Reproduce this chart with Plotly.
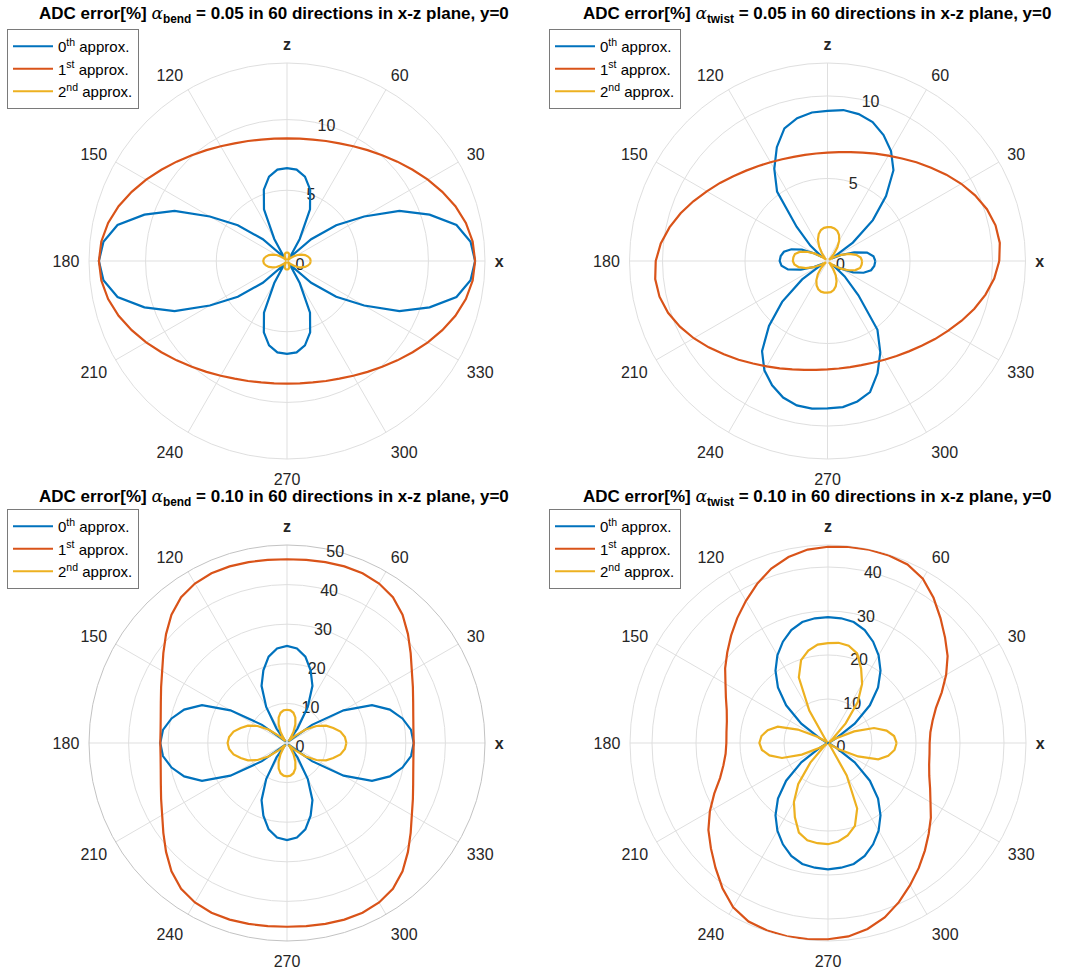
import plotly.graph_objects as go

# ---------------- data ----------------
theta = list(range(0, 361, 6))  # 60 directions, closed

names = ['0<sup>th</sup> approx.', '1<sup>st</sup> approx.', '2<sup>nd</sup> approx.']
colors = ['#0072BD', '#D95319', '#EDB120']

ang_tickvals = [0, 30, 60, 90, 120, 150, 180, 210, 240, 270, 300, 330]
ang_ticktext = ['<b>x</b>', '30', '60', '<b>z</b>', '120', '150', '180', '210', '240', '270', '300', '330']

# Panel 1: bend 0.05
bend05_0th = [13.30, 13.05, 12.25, 10.60, 8.70, 6.30, 4.30, 2.30, 0.50, 0.40, 1.80, 4.00, 5.30, 6.10, 6.50, 6.57,
              6.50, 6.10, 5.30, 4.00, 1.80, 0.40, 0.50, 2.30, 4.30, 6.30, 8.70, 10.60, 12.25, 13.05, 13.30,
              13.05, 12.25, 10.60, 8.70, 6.30, 4.30, 2.30, 0.50, 0.40, 1.80, 4.00, 5.30, 6.10, 6.50, 6.57,
              6.50, 6.10, 5.30, 4.00, 1.80, 0.40, 0.50, 2.30, 4.30, 6.30, 8.70, 10.60, 12.25, 13.05, 13.30]
bend05_1st = [13.30, 13.20, 12.93, 12.52, 12.02, 11.50, 10.98, 10.50, 10.06, 9.69, 9.37, 9.11, 8.92, 8.78, 8.70, 8.67,
              8.70, 8.78, 8.92, 9.11, 9.37, 9.69, 10.06, 10.50, 10.98, 11.50, 12.02, 12.52, 12.93, 13.20, 13.30,
              13.20, 12.93, 12.52, 12.02, 11.50, 10.98, 10.50, 10.06, 9.69, 9.37, 9.11, 8.92, 8.78, 8.70, 8.67,
              8.70, 8.78, 8.92, 9.11, 9.37, 9.69, 10.06, 10.50, 10.98, 11.50, 12.02, 12.52, 12.93, 13.20, 13.30]
bend05_2nd = [1.68, 1.64, 1.52, 1.35, 1.12, 0.85, 0.55, 0.28, 0.08, 0.10, 0.25, 0.40, 0.50, 0.57, 0.60, 0.60,
              0.60, 0.57, 0.50, 0.40, 0.25, 0.10, 0.08, 0.28, 0.55, 0.85, 1.12, 1.35, 1.52, 1.64, 1.68,
              1.64, 1.52, 1.35, 1.12, 0.85, 0.55, 0.28, 0.08, 0.10, 0.25, 0.40, 0.50, 0.57, 0.60, 0.60,
              0.60, 0.57, 0.50, 0.40, 0.25, 0.10, 0.08, 0.28, 0.55, 0.85, 1.12, 1.35, 1.52, 1.64, 1.68]

# Panel 2: twist 0.05
twist05_0th = [2.90, 2.80, 2.45, 1.70, 0.90, 0.30, 1.90, 3.70, 5.30, 6.80, 7.70, 8.35, 8.85, 9.10, 9.20,
               9.10, 9.05, 8.85, 8.45, 7.55, 6.45, 5.20, 2.80, 1.40, 0.40, 0.90, 1.70, 2.30, 2.70, 2.85,
               2.90, 2.80, 2.45, 1.70, 0.90, 0.30, 1.90, 3.70, 5.30, 6.75, 7.65, 8.25, 8.70, 8.95, 9.00,
               8.93, 8.90, 8.70, 8.35, 7.45, 6.40, 5.15, 2.80, 1.40, 0.40, 0.90, 1.70, 2.30, 2.70, 2.85,
               2.90]
twist05_1st = [10.41, 10.50, 10.41, 10.16, 9.79, 9.36, 8.90, 8.45, 8.05, 7.68, 7.37, 7.12, 6.91, 6.75, 6.64,
               6.57, 6.55, 6.57, 6.64, 6.75, 6.91, 7.12, 7.37, 7.68, 8.05, 8.45, 8.90, 9.36, 9.79, 10.16,
               10.41, 10.50, 10.41, 10.16, 9.79, 9.36, 8.90, 8.45, 8.05, 7.68, 7.37, 7.12, 6.91, 6.75, 6.64,
               6.57, 6.55, 6.57, 6.64, 6.75, 6.91, 7.12, 7.37, 7.68, 8.05, 8.45, 8.90, 9.36, 9.79, 10.16,
               10.41]
twist05_2nd = [2.10, 2.02, 1.78, 1.38, 0.92, 0.45, 0.12, 0.22, 0.58, 1.02, 1.42, 1.72, 1.92, 2.02, 2.06,
               2.05, 2.02, 1.92, 1.72, 1.42, 1.02, 0.58, 0.22, 0.12, 0.45, 0.92, 1.38, 1.78, 2.02, 2.08,
               2.10, 2.02, 1.78, 1.38, 0.92, 0.45, 0.12, 0.22, 0.58, 1.00, 1.35, 1.62, 1.80, 1.90, 1.93,
               1.92, 1.90, 1.80, 1.62, 1.35, 1.00, 0.58, 0.22, 0.12, 0.45, 0.92, 1.38, 1.78, 2.02, 2.08,
               2.10]

# Panel 3: bend 0.10
bend10_0th = [32.0, 31.5, 29.8, 27.3, 23.5, 16.5, 7.8, 1.0, 0.5, 4.5, 10.5, 15.8, 19.3, 22.3, 24.0, 24.5,
              24.0, 22.3, 19.3, 15.8, 10.5, 4.5, 0.5, 1.0, 7.8, 16.5, 23.5, 27.3, 29.8, 31.5, 32.0,
              31.5, 29.8, 27.3, 23.5, 16.5, 7.8, 1.0, 0.5, 4.5, 10.5, 15.8, 19.3, 22.3, 24.0, 24.5,
              24.0, 22.3, 19.3, 15.8, 10.5, 4.5, 0.5, 1.0, 7.8, 16.5, 23.5, 27.3, 29.8, 31.5, 32.0]
bend10_1st = [32.0, 32.1, 32.6, 33.5, 34.8, 36.4, 38.6, 41.1, 43.6, 45.5, 46.5, 46.9, 46.9, 46.7, 46.5, 46.4,
              46.5, 46.7, 46.9, 46.9, 46.5, 45.5, 43.6, 41.1, 38.6, 36.4, 34.8, 33.5, 32.6, 32.1, 32.0,
              32.1, 32.6, 33.5, 34.8, 36.4, 38.6, 41.1, 43.6, 45.5, 46.5, 46.9, 46.9, 46.7, 46.5, 46.4,
              46.5, 46.7, 46.9, 46.9, 46.5, 45.5, 43.6, 41.1, 38.6, 36.4, 34.8, 33.5, 32.6, 32.1, 32.0]
bend10_2nd = [15.0, 14.7, 13.8, 12.3, 10.8, 8.6, 5.8, 2.6, 0.6, 1.5, 3.3, 5.2, 6.8, 7.8, 8.3, 8.4,
              8.3, 7.8, 6.8, 5.2, 3.3, 1.5, 0.6, 2.6, 5.8, 8.6, 10.8, 12.3, 13.8, 14.7, 15.0,
              14.7, 13.8, 12.3, 10.8, 8.6, 5.8, 2.6, 0.6, 1.5, 3.3, 5.2, 6.8, 7.8, 8.3, 8.4,
              8.3, 7.8, 6.8, 5.2, 3.3, 1.5, 0.6, 2.6, 5.8, 8.6, 10.8, 12.3, 13.8, 14.7, 15.0]

# Panel 4: twist 0.10
twist10_0th = [0.2, 0.2, 0.2, 0.3, 0.6, 2.2, 7.5, 12.8, 17.0, 20.3, 23.0, 25.2, 27.0, 28.1, 28.5,
               28.6, 28.5, 28.1, 27.0, 25.2, 23.0, 20.3, 17.0, 12.8, 7.5, 2.2, 0.6, 0.3, 0.2, 0.2,
               0.2, 0.2, 0.2, 0.3, 0.6, 2.2, 7.5, 12.8, 17.0, 20.3, 23.0, 25.2, 27.0, 28.1, 28.5,
               28.7, 28.5, 28.1, 27.0, 25.2, 23.0, 20.3, 17.0, 12.8, 7.5, 2.2, 0.6, 0.3, 0.2, 0.2,
               0.2]
twist10_1st = [23.1, 23.4, 24.3, 25.8, 28.3, 31.0, 33.6, 35.8, 38.2, 40.8, 43.1, 44.4, 44.8, 44.9, 44.8,
               44.6, 44.2, 43.2, 41.7, 39.6, 37.3, 35.1, 32.9, 30.8, 28.9, 26.9, 25.4, 24.2, 23.5, 23.2,
               23.1, 23.4, 24.3, 25.8, 28.3, 31.0, 33.6, 35.8, 38.2, 40.8, 43.1, 44.4, 44.8, 44.9, 44.8,
               44.6, 44.2, 43.2, 41.7, 39.6, 37.3, 35.1, 32.9, 30.8, 28.9, 26.9, 25.4, 24.2, 23.5, 23.2,
               23.1]
twist10_2nd = [15.6, 15.1, 13.6, 11.0, 6.5, 2.0, 0.3, 1.5, 6.0, 11.5, 15.5, 18.5, 21.4, 22.6, 22.9,
               22.7, 22.5, 21.5, 19.8, 16.3, 8.5, 1.0, 0.3, 0.2, 0.6, 2.8, 7.5, 12.0, 14.0, 15.2,
               15.6, 15.1, 13.6, 11.0, 6.5, 2.0, 0.3, 1.5, 6.0, 11.5, 15.5, 18.5, 21.4, 22.6, 22.9,
               23.0, 22.5, 21.5, 19.8, 16.3, 8.5, 1.0, 0.3, 0.2, 0.6, 2.8, 7.5, 12.0, 14.0, 15.2,
               15.6]

panels = [
    dict(series=[bend05_0th, bend05_1st, bend05_2nd], sym='bend', val='0.05',
         rmax=14, rticks=[0, 5, 10], center=(287, 261), title_x=274, title_y=14, legend=(7, 29), outer='#dfdfdf'),
    dict(series=[twist05_0th, twist05_1st, twist05_2nd], sym='twist', val='0.05',
         rmax=12, rticks=[0, 5, 10], center=(827.5, 261), title_x=817, title_y=14, legend=(549, 29), outer='#dfdfdf'),
    dict(series=[bend10_0th, bend10_1st, bend10_2nd], sym='bend', val='0.10',
         rmax=50, rticks=[0, 10, 20, 30, 40, 50], center=(287, 743), title_x=274, title_y=497, legend=(7, 509), outer='#c3c3c3'),
    dict(series=[twist10_0th, twist10_1st, twist10_2nd], sym='twist', val='0.10',
         rmax=45, rticks=[0, 10, 20, 30, 40], center=(828, 743), title_x=817, title_y=497, legend=(549, 509), outer='#dfdfdf'),
]

# ---------------- figure ----------------
W, H = 1086, 969
R = 198
FONT = 'Liberation Sans, Arial, Helvetica, sans-serif'
TXT = '#262626'
GRID = '#dfdfdf'

fig = go.Figure()
layout = dict(width=W, height=H, margin=dict(l=0, r=0, t=0, b=0),
              paper_bgcolor='white', plot_bgcolor='white',
              font=dict(family=FONT, color=TXT), annotations=[])

for i, p in enumerate(panels):
    pid = '' if i == 0 else str(i + 1)
    lid = 'legend' if i == 0 else 'legend' + str(i + 1)
    for k in range(3):
        fig.add_trace(go.Scatterpolar(
            r=p['series'][k], theta=theta, mode='lines',
            line=dict(color=colors[k], width=2.2),
            name=names[k], subplot='polar' + pid, legend=lid,
            legendgroup='g%d_%d' % (i, k), showlegend=True))
    cx, cy = p['center']
    layout['polar' + pid] = dict(
        domain=dict(x=[(cx - R) / W, (cx + R) / W], y=[1 - (cy + R) / H, 1 - (cy - R) / H]),
        bgcolor='white',
        angularaxis=dict(rotation=0, direction='counterclockwise',
                         tickmode='array', tickvals=ang_tickvals, ticktext=ang_ticktext,
                         showgrid=True, gridcolor=GRID, gridwidth=1,
                         showline=True, linecolor=p['outer'], linewidth=1,
                         ticks='outside', ticklen=6, tickcolor='rgba(0,0,0,0)',
                         tickfont=dict(size=16, color=TXT, family=FONT),
                         layer='below traces'),
        radialaxis=dict(range=[0, p['rmax']], tickmode='array', tickvals=p['rticks'],
                        angle=81, tickangle=81, side='clockwise',
                        showline=False, showgrid=True, gridcolor=GRID, gridwidth=1,
                        ticks='', tickfont=dict(size=16, color=TXT, family=FONT),
                        layer='below traces'),
    )
    lx, ly = p['legend']
    layout[lid] = dict(x=lx / W, y=1 - ly / H, xanchor='left', yanchor='top',
                       bgcolor='white', bordercolor='#7a7a7a', borderwidth=1,
                       font=dict(size=15, color='#000000', family=FONT),
                       itemwidth=40, tracegroupgap=0, traceorder='grouped')
    title = ('<b>ADC error[%] </b><span style="font-family:\'DejaVu Serif\',serif"><i>α</i></span>'
             '<sub><b>' + p['sym'] + '</b></sub><b> = ' + p['val'] +
             ' in 60 directions in x-z plane, y=0</b>')
    layout['annotations'].append(dict(
        text=title, x=p['title_x'] / W, y=1 - p['title_y'] / H, xref='paper', yref='paper',
        xanchor='center', yanchor='middle', showarrow=False,
        font=dict(size=17, color='#000000', family=FONT)))

fig.update_layout(**layout)
fig.write_html('out.html')
